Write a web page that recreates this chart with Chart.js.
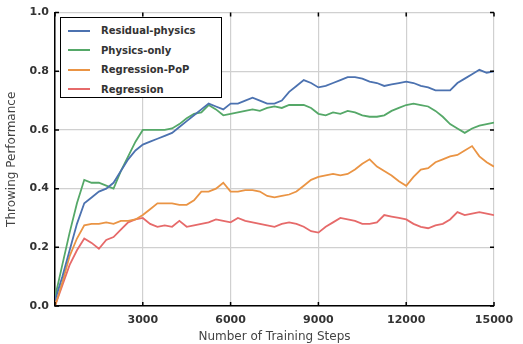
<!DOCTYPE html>
<html>
<head>
<meta charset="utf-8">
<script src="https://cdn.jsdelivr.net/npm/chart.js@4"></script>
<style>
  body { margin: 0; background: #fff; }
  #wrap { position: relative; width: 523px; height: 344px; }
  #legend {
    position: absolute; left: 60px; top: 17px; width: 162px; height: 81px;
    border: 1.5px solid #000; background: #fff; box-sizing: border-box;
    font-family: "DejaVu Sans", sans-serif; font-size: 10px; font-weight: bold; color: #333;
    padding-top: 3px;
  }
  .row { height: 19.5px; display: flex; align-items: center; }
  .swatch { width: 22px; height: 1.6px; margin-left: 7px; margin-right: 11px; }
</style>
</head>
<body>
<div id="wrap">
  <canvas id="chart" width="523" height="344"></canvas>
  <div id="legend"></div>
</div>
<script>
var steps = [0,250,500,750,1000,1250,1500,1750,2000,2250,2500,2750,3000,3250,3500,3750,4000,4250,4500,4750,5000,5250,5500,5750,6000,6250,6500,6750,7000,7250,7500,7750,8000,8250,8500,8750,9000,9250,9500,9750,10000,10250,10500,10750,11000,11250,11500,11750,12000,12250,12500,12750,13000,13250,13500,13750,14000,14250,14500,14750,15000];

var residualPhysics = [0.02,0.10,0.19,0.28,0.35,0.37,0.39,0.40,0.42,0.46,0.50,0.53,0.55,0.56,0.57,0.58,0.59,0.61,0.63,0.65,0.67,0.69,0.68,0.67,0.69,0.69,0.70,0.71,0.70,0.69,0.69,0.70,0.73,0.75,0.77,0.76,0.745,0.75,0.76,0.77,0.78,0.78,0.775,0.765,0.76,0.75,0.755,0.76,0.765,0.76,0.75,0.745,0.735,0.735,0.735,0.76,0.775,0.79,0.805,0.795,0.80];
var physicsOnly = [0.03,0.14,0.25,0.35,0.43,0.42,0.42,0.41,0.40,0.46,0.51,0.56,0.60,0.60,0.60,0.60,0.605,0.62,0.64,0.655,0.66,0.685,0.67,0.65,0.655,0.66,0.665,0.67,0.665,0.675,0.68,0.675,0.685,0.685,0.685,0.675,0.655,0.65,0.66,0.655,0.665,0.66,0.65,0.645,0.645,0.65,0.665,0.675,0.685,0.69,0.685,0.68,0.665,0.645,0.62,0.605,0.59,0.605,0.615,0.62,0.625];
var regressionPoP = [0.0,0.08,0.17,0.23,0.275,0.28,0.28,0.285,0.28,0.29,0.29,0.295,0.31,0.33,0.35,0.35,0.35,0.345,0.345,0.36,0.39,0.39,0.40,0.42,0.39,0.39,0.395,0.395,0.39,0.375,0.37,0.375,0.38,0.39,0.41,0.43,0.44,0.445,0.45,0.445,0.45,0.465,0.485,0.50,0.475,0.46,0.445,0.425,0.41,0.44,0.465,0.47,0.49,0.50,0.51,0.515,0.53,0.545,0.51,0.49,0.475];
var regression = [0.0,0.07,0.14,0.19,0.23,0.215,0.195,0.225,0.235,0.26,0.285,0.295,0.30,0.28,0.27,0.275,0.27,0.29,0.27,0.275,0.28,0.285,0.295,0.29,0.285,0.30,0.29,0.285,0.28,0.275,0.27,0.28,0.285,0.28,0.27,0.255,0.25,0.27,0.285,0.30,0.295,0.29,0.28,0.28,0.285,0.31,0.305,0.30,0.295,0.28,0.27,0.265,0.275,0.28,0.295,0.32,0.31,0.315,0.32,0.315,0.31];

var seriesNames = ['Residual-physics', 'Physics-only', 'Regression-PoP', 'Regression'];
var seriesColors = ['#4c72b0', '#55a868', '#ea9444', '#e66a6a'];
var seriesData = [residualPhysics, physicsOnly, regressionPoP, regression];

function toPoints(vals) {
    return vals.map(function(v, i) { return {x: steps[i], y: v}; });
}

var datasets = seriesNames.map(function(name, i) {
    return {
        label: name,
        data: toPoints(seriesData[i]),
        borderColor: seriesColors[i],
        borderWidth: 1.8,
        pointRadius: 0,
        tension: 0,
        fill: false
    };
});

// short inward tick marks on all four sides
var innerTicks = {
    id: 'innerTicks',
    afterDatasetsDraw: function(chart) {
        var c = chart.ctx, a = chart.chartArea;
        var xs = chart.scales.x, ys = chart.scales.y;
        c.save();
        c.strokeStyle = '#000';
        c.lineWidth = 1.5;
        c.beginPath();
        xs.ticks.forEach(function(t) {
            var px = xs.getPixelForValue(t.value);
            c.moveTo(px, a.bottom); c.lineTo(px, a.bottom - 4);
            c.moveTo(px, a.top); c.lineTo(px, a.top + 4);
        });
        ys.ticks.forEach(function(t) {
            var py = ys.getPixelForValue(t.value);
            c.moveTo(a.left, py); c.lineTo(a.left + 4, py);
            c.moveTo(a.right, py); c.lineTo(a.right - 4, py);
        });
        c.stroke();
        c.restore();
    }
};

var ctx = document.getElementById('chart').getContext('2d');
var chart = new Chart(ctx, {
    type: 'line',
    data: { datasets: datasets },
    plugins: [innerTicks],
    options: {
        responsive: false,
        animation: false,
        layout: { padding: { top: 12, right: 29, left: 5, bottom: 0 } },
        plugins: { legend: { display: false }, tooltip: { enabled: false } },
        scales: {
            x: {
                type: 'linear', min: 0, max: 15000,
                afterFit: function(s) { s.height = 38; },
                ticks: {
                    stepSize: 3000, padding: 8, color: '#333',
                    font: { family: 'DejaVu Sans', size: 11, weight: 'bold' },
                    callback: function(v) { return v === 0 ? '' : v; }
                },
                grid: { color: '#d0d0d0', lineWidth: 1.2, drawTicks: false },
                border: { color: '#000', width: 1.5 },
                title: {
                    display: true, text: 'Number of Training Steps', color: '#444',
                    font: { family: 'DejaVu Sans', size: 12 }, padding: { top: 0, bottom: 0 }
                }
            },
            y: {
                min: 0, max: 1,
                afterFit: function(s) { s.width = 50; },
                ticks: {
                    stepSize: 0.2, padding: 6, color: '#333',
                    font: { family: 'DejaVu Sans', size: 11, weight: 'bold' },
                    callback: function(v) { return v.toFixed(1); }
                },
                grid: { color: '#d0d0d0', lineWidth: 1.2, drawTicks: false },
                border: { color: '#000', width: 1.5 },
                title: {
                    display: true, text: 'Throwing Performance', color: '#444',
                    font: { family: 'DejaVu Sans', size: 12 }, padding: { top: 0, bottom: 2 }
                }
            }
        }
    }
});

var legend = document.getElementById('legend');
chart.data.datasets.forEach(function(ds) {
    var row = document.createElement('div');
    row.className = 'row';
    row.innerHTML = '<span class="swatch" style="background:' + ds.borderColor + '"></span>' + ds.label;
    legend.appendChild(row);
});
</script>
</body>
</html>
